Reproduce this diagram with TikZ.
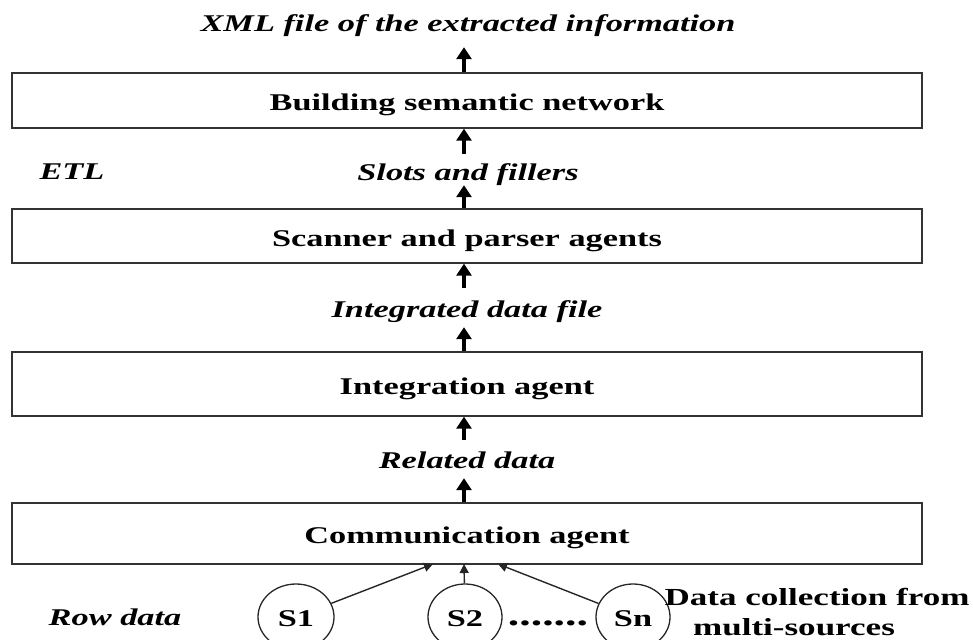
\documentclass[tikz,border=0pt]{standalone}
\usepackage{fontspec}
\setmainfont[FakeStretch=1.43]{Liberation Serif}
\usetikzlibrary{arrows.meta,shapes.geometric}
\begin{document}
\begin{tikzpicture}[x=1pt,y=-1pt,
  stagebox/.style={draw=black!80, line width=1.4pt, minimum width=910pt, inner sep=0pt,
    text height=20pt, text depth=0pt, font=\fontsize{24}{28}\selectfont\bfseries},
  flowlbl/.style={anchor=base, inner sep=0pt, text height=16pt, text depth=0pt,
    font=\fontsize{24}{28}\selectfont\bfseries\itshape},
  plainlbl/.style={anchor=base, inner sep=0pt, font=\fontsize{24.5}{28}\selectfont\bfseries},
  bigarrow/.style={line width=4.5pt, -{Triangle[width=15pt,length=12pt]}},
  srcnode/.style={draw=black!85, ellipse, line width=1.3pt, minimum width=76pt, minimum height=66pt,
    inner sep=0pt, text height=18pt, text depth=0pt, font=\fontsize{24}{28}\selectfont\bfseries},
  srcarrow/.style={line width=1.4pt, draw=black!85, -{Triangle[width=9pt,length=9pt]}}]

\useasboundingbox (0,0) rectangle (973,639);
\coordinate (ax) at (464,0);

% stage boxes
\node[stagebox, minimum height=55pt] (b1) at (467,100.5) {Building semantic network};
\node[stagebox, minimum height=54pt] (b2) at (467,236) {Scanner and parser agents};
\node[stagebox, minimum height=64pt] (b3) at (467,384) {Integration agent};
\node[stagebox, minimum height=61pt] (b4) at (467,533.5) {Communication agent};

% flow labels
\node[flowlbl] (xml) at (468,32) {XML file of the extracted information};
\node[flowlbl] (slots) at (468,180) {Slots and fillers};
\node[flowlbl] (etl) at (72,179) {ETL};
\node[flowlbl] (integ) at (467,317) {Integrated data file};
\node[flowlbl] (rel) at (467,468) {Related data};
\node[flowlbl] (row) at (115,625) {Row data};

% big arrows
\draw[bigarrow, shorten >=15pt] (b1.north -| ax) -- (xml.south -| ax);
\draw[bigarrow, shorten <=10pt] (slots.north -| ax) -- (b1.south -| ax);
\draw[bigarrow, shorten >=5pt] (b2.north -| ax) -- (slots.south -| ax);
\draw[bigarrow, shorten <=13pt] (integ.north -| ax) -- (b2.south -| ax);
\draw[bigarrow, shorten >=10pt] (b3.north -| ax) -- (integ.south -| ax);
\draw[bigarrow, shorten <=12pt] (rel.north -| ax) -- (b3.south -| ax);
\draw[bigarrow, shorten >=10pt] (b4.north -| ax) -- (rel.south -| ax);

% sources
\node[srcnode] (s1) at (296,617) {S1};
\node[srcnode, minimum width=74pt] (s2) at (465,617) {S2};
\node[srcnode, minimum width=74pt] (sn) at (633,617) {Sn};
\node[anchor=base, inner sep=0pt, font=\fontsize{32}{32}\selectfont\bfseries] (dots) at (548,625) {.......};
\node[plainlbl] (dc1) at (817,605) {Data collection from};
\node[plainlbl] (dc2) at (794,635) {multi-sources};

\coordinate (c1) at (433,564);
\coordinate (c2) at (464,564);
\coordinate (cn) at (498,564);
\draw[srcarrow] (s1) -- (c1);
\draw[srcarrow] (s2) -- (c2);
\draw[srcarrow] (sn) -- (cn);
\end{tikzpicture}
\end{document}
